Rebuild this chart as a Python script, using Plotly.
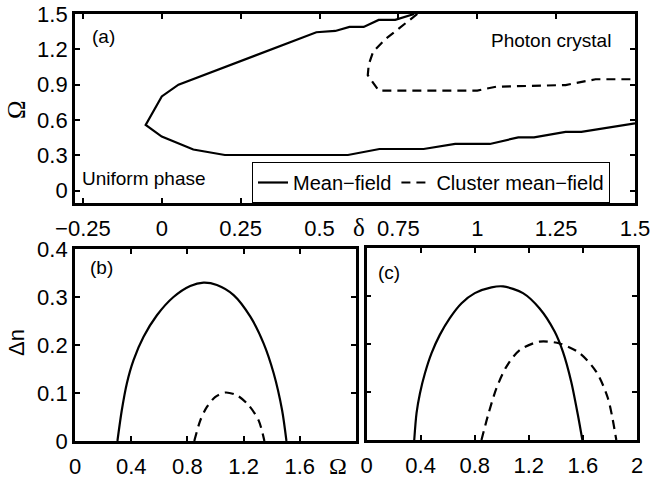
import plotly.graph_objects as go

# ---------------- data ----------------
# Panel (a): phase boundary, delta vs Omega
a_mf_delta = [0.80, 0.74, 0.6875, 0.64, 0.595, 0.55, 0.49, 0.25, 0.053, 0.0, -0.051,
              0.0, 0.10, 0.20, 0.59, 0.69, 0.83, 0.93, 1.04, 1.13, 1.18, 1.28, 1.33, 1.50]
a_mf_omega = [1.50, 1.45, 1.45, 1.39, 1.39, 1.356, 1.345, 1.10, 0.90, 0.80, 0.558,
              0.46, 0.35, 0.303, 0.303, 0.354, 0.354, 0.397, 0.397, 0.453, 0.453, 0.50, 0.50, 0.572]
a_cmf_delta = [0.81, 0.71, 0.67, 0.656, 0.653, 0.6875, 1.00, 1.06, 1.28, 1.375, 1.50]
a_cmf_omega = [1.50, 1.29, 1.18, 1.07, 0.98, 0.85, 0.85, 0.883, 0.897, 0.946, 0.946]

# Panel (b)
b_mf_omega = [0.302, 0.333, 0.369, 0.416, 0.488, 0.583, 0.701, 0.820, 0.915, 1.01, 1.129,
              1.248, 1.343, 1.414, 1.474, 1.505]
b_mf_dn = [0.0, 0.064, 0.12, 0.168, 0.217, 0.262, 0.30, 0.323, 0.33, 0.325, 0.304,
           0.259, 0.203, 0.141, 0.064, 0.0]
b_cmf_omega = [0.849, 0.892, 0.939, 0.999, 1.070, 1.153, 1.236, 1.307, 1.348]
b_cmf_dn = [0.0, 0.043, 0.071, 0.092, 0.101, 0.095, 0.0745, 0.043, 0.0]

# Panel (c)
c_mf_omega = [0.353, 0.370, 0.395, 0.432, 0.481, 0.542, 0.616, 0.703, 0.801, 0.924, 1.01,
              1.157, 1.280, 1.391, 1.452, 1.514, 1.563, 1.596]
c_mf_dn = [0.0, 0.056, 0.097, 0.139, 0.181, 0.219, 0.254, 0.285, 0.306, 0.318, 0.320,
           0.306, 0.274, 0.226, 0.184, 0.121, 0.052, 0.0]
c_cmf_omega = [0.850, 0.899, 0.961, 1.035, 1.133, 1.280, 1.428, 1.576, 1.699, 1.785, 1.847]
c_cmf_dn = [0.0, 0.052, 0.108, 0.153, 0.1875, 0.205, 0.201, 0.181, 0.142, 0.087, 0.0]

a_xticks = [-0.25, 0, 0.25, 0.5, 0.75, 1, 1.25, 1.5]
a_yticks = [0, 0.3, 0.6, 0.9, 1.2, 1.5]
bc_xticks = [0, 0.4, 0.8, 1.2, 1.6, 2]
bc_yticks = [0, 0.1, 0.2, 0.3, 0.4]

# ---------------- figure ----------------
W, H = 653, 481
SANS = "Liberation Sans, Arial, sans-serif"
SERIF = "Liberation Serif, Times New Roman, serif"
LW = 2.2
DASH = "9px,6px"

def px(x):
    return x / W

def py(y):
    return 1 - y / H

fig = go.Figure()

fig.add_trace(go.Scatter(x=a_mf_delta, y=a_mf_omega, mode="lines", name="Mean\u2212field",
                         line=dict(color="black", width=LW), xaxis="x", yaxis="y"))
fig.add_trace(go.Scatter(x=a_cmf_delta, y=a_cmf_omega, mode="lines", name="Cluster mean\u2212field",
                         line=dict(color="black", width=LW, dash=DASH), xaxis="x", yaxis="y"))

fig.add_trace(go.Scatter(x=b_mf_omega, y=b_mf_dn, mode="lines", showlegend=False,
                         line=dict(color="black", width=LW, shape="spline", smoothing=0.8),
                         xaxis="x2", yaxis="y2"))
fig.add_trace(go.Scatter(x=b_cmf_omega, y=b_cmf_dn, mode="lines", showlegend=False,
                         line=dict(color="black", width=LW, dash=DASH, shape="spline", smoothing=0.8),
                         xaxis="x2", yaxis="y2"))

fig.add_trace(go.Scatter(x=c_mf_omega, y=c_mf_dn, mode="lines", showlegend=False,
                         line=dict(color="black", width=LW, shape="spline", smoothing=0.8),
                         xaxis="x3", yaxis="y3"))
fig.add_trace(go.Scatter(x=c_cmf_omega, y=c_cmf_dn, mode="lines", showlegend=False,
                         line=dict(color="black", width=LW, dash=DASH, shape="spline", smoothing=0.8),
                         xaxis="x3", yaxis="y3"))

axis_common = dict(showline=True, linecolor="black", linewidth=2.8, mirror="ticks",
                   ticks="inside", ticklen=5, tickwidth=1.5, tickcolor="black",
                   showgrid=False, zeroline=False, automargin=False,
                   tickfont=dict(family=SANS, size=22, color="black"))

fig.update_layout(
    template="none",
    width=W, height=H,
    margin=dict(l=0, r=0, t=0, b=0, autoexpand=False),
    paper_bgcolor="white", plot_bgcolor="white",
    font=dict(family=SANS, color="black"),
    xaxis=dict(domain=[px(75), px(635)], range=[-0.275, 1.5], tickvals=a_xticks,
               ticktext=["\u22120.25", "0", "0.25", "0.5", "0.75", "1", "1.25", "1.5"],
               anchor="y", ticklabelstandoff=4, **axis_common),
    yaxis=dict(domain=[py(202.5), py(14)], range=[-0.1, 1.5], tickvals=a_yticks,
               ticktext=["0", "0.3", "0.6", "0.9", "1.2", "1.5"], anchor="x",
               ticklabelstandoff=0, **axis_common),
    xaxis2=dict(domain=[px(75), px(356)], range=[0, 2], tickvals=bc_xticks,
                ticktext=["0", "0.4", "0.8", "1.2", "1.6", ""], anchor="y2",
                ticklabelstandoff=4, **axis_common),
    yaxis2=dict(domain=[py(441), py(249)], range=[0, 0.4], tickvals=bc_yticks,
                ticktext=["0", "0.1", "0.2", "0.3", "0.4"], anchor="x2",
                ticklabelstandoff=0, **axis_common),
    xaxis3=dict(domain=[px(366.5), px(637)], range=[0, 2], tickvals=bc_xticks,
                ticktext=["0", "0.4", "0.8", "1.2", "1.6", "2"], anchor="y3",
                ticklabelstandoff=4, **axis_common),
    yaxis3=dict(domain=[py(440), py(248)], range=[0, 0.4], tickvals=bc_yticks,
                showticklabels=False, anchor="x3", **axis_common),
    legend=dict(orientation="h", x=px(252), y=py(162), xanchor="left", yanchor="top",
                bgcolor="white", bordercolor="black", borderwidth=1,
                font=dict(family=SANS, size=20, color="black"),
                itemwidth=30, tracegroupgap=0),
    showlegend=True,
)

def ann(text, x, y, size=19, family=SANS, angle=0, xanchor="center"):
    fig.add_annotation(text=text, x=px(x), y=py(y), xref="paper", yref="paper",
                       showarrow=False, textangle=angle, xanchor=xanchor, yanchor="middle",
                       font=dict(family=family, size=size, color="black"))

ann("(a)", 103, 37)
ann("(b)", 101, 267)
ann("(c)", 389, 272)
ann("Photon crystal", 551, 40)
ann("Uniform phase", 144, 178)
ann("\u03a9", 16, 110, size=25, family=SERIF, angle=-90)
ann("\u03b4", 359, 227, size=25, family=SERIF)
ann("\u0394n", 16, 343, size=22, family=SANS, angle=-90)
ann("\u03a9", 338, 466, size=24, family=SERIF)

fig.write_html("out.html", config={"displayModeBar": False},
               post_script="document.body.style.margin='0';document.body.style.overflow='hidden';")
